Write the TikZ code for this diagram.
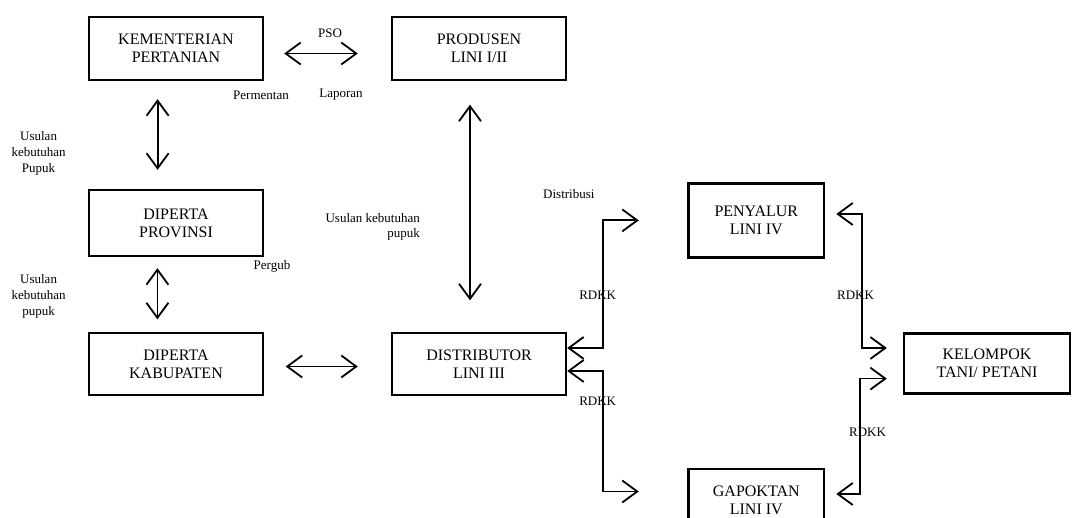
\documentclass[tikz,border=0pt]{standalone}
\usepackage{fontspec}
\setmainfont{Liberation Serif}
\usetikzlibrary{arrows.meta}
\begin{document}
\begin{tikzpicture}[x=1pt,y=-1pt,
 box/.style={draw, line width=2.4pt, align=center, inner sep=0pt, font=\fontsize{16}{18}\selectfont},
 lbl/.style={font=\fontsize{13}{16}\selectfont, inner sep=0pt, align=center},
 arr2/.style={line width=1.8pt, {Straight Barb[length=15pt,width=22pt]}-{Straight Barb[length=15pt,width=22pt]}}]
\useasboundingbox (0,0) rectangle (1072,518);
\clip (0,0) rectangle (1072,518);
% boxes
\node[box, minimum width=174pt, minimum height=63pt] (kem) at (176,48.5) {KEMENTERIAN\\PERTANIAN};
\node[box, minimum width=174pt, minimum height=63pt] (prod) at (479,48.5) {PRODUSEN\\LINI I/II};
\node[box, minimum width=174pt, minimum height=66pt] (prov) at (176,223) {DIPERTA\\PROVINSI};
\node[box, minimum width=174pt, minimum height=62pt] (kab) at (176,364) {DIPERTA\\KABUPATEN};
\node[box, minimum width=174pt, minimum height=62pt] (dist) at (479,364) {DISTRIBUTOR\\LINI III};
\node[box, minimum width=135.5pt, minimum height=74pt] (peny) at (756.3,220.4) {PENYALUR\\LINI IV};
\node[box, minimum width=166pt, minimum height=60pt] (kel) at (987,363.6) {KELOMPOK\\TANI/ PETANI};
\node[box, minimum width=135.5pt, minimum height=62pt] (gap) at (756.3,500) {GAPOKTAN\\LINI IV};
% connectors
\draw[arr2, shorten <=18pt, shorten >=19pt] ([xshift=-18.4pt]kem.south) -- ([xshift=-18.4pt]prov.north);
\draw[arr2, shorten <=11pt, shorten >=12.5pt] ([xshift=-18.6pt]prov.south) -- ([xshift=-18.6pt]kab.north);
\draw[arr2, shorten <=20pt, shorten >=33pt] ([yshift=-5pt]kem.east) -- ([yshift=-5pt]prod.west);
\draw[arr2, shorten <=21.5pt, shorten >=33pt] ([yshift=-2.5pt]kab.east) -- ([yshift=-2.5pt]dist.west);
\draw[arr2, shorten <=23.5pt, shorten >=31.5pt] ([xshift=-9pt]prod.south) -- ([xshift=-9pt]dist.north);
\draw[arr2] ([yshift=16pt]dist.east) -- ++(36,0) |- ([xshift=-48.6pt]peny.west);
\draw[arr2] ([yshift=-7pt]dist.east) -- ++(36,0) |- ([xshift=-48.6pt,yshift=8.5pt]gap.west);
\draw[arr2] ([xshift=11pt,yshift=6.4pt]peny.east) -- ++(26,0) |- ([xshift=-16pt,yshift=15.6pt]kel.west);
\draw[arr2] ([xshift=-16pt,yshift=-15pt]kel.west) -- ++(-27,0) |- ([xshift=11pt,yshift=6pt]gap.east);
% labels
\node[lbl] (pso) at (330,33) {PSO};
\node[lbl] (permentan) at (261,95) {Permentan};
\node[lbl] (laporan) at (341,95) {Laporan};
\node[lbl] (usul1) at (38.6,153) {Usulan\\kebutuhan\\Pupuk};
\node[lbl, align=right, anchor=east, font=\fontsize{13}{15}\selectfont] (usul2) at (420,227) {Usulan kebutuhan\\pupuk};
\node[lbl] (pergub) at (272,266) {Pergub};
\node[lbl] (usul3) at (38.6,296) {Usulan\\kebutuhan\\pupuk};
\node[lbl, anchor=west] (distrib) at (543,193.6) {Distribusi};
\node[lbl] (r1) at (597.7,295.4) {RDKK};
\node[lbl] (r2) at (597.7,401) {RDKK};
\node[lbl] (r3) at (855.6,295.4) {RDKK};
\node[lbl] (r4) at (867.5,432) {RDKK};
\end{tikzpicture}
\end{document}
